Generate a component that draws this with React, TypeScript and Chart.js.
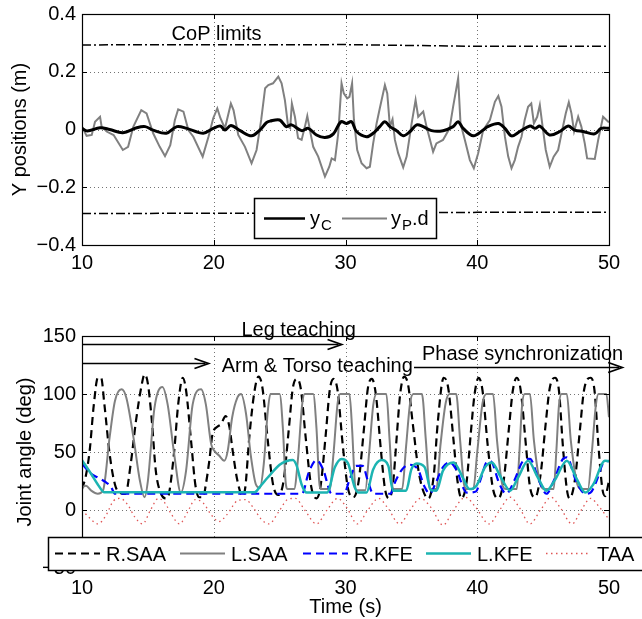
import React, { useEffect, useRef } from 'react';
import { Chart, registerables } from 'chart.js';

Chart.register(...registerables);

const FONT = '"Liberation Sans", Arial, Helvetica, sans-serif';

type Pt = [number, number];

// ---------------- Top panel: Y positions (m) ----------------
const topXTicks = [10, 20, 30, 40, 50];
const topYTicks = [-0.4, -0.2, 0, 0.2, 0.4];
const topYTickLabels = ['\u22120.4', '\u22120.2', '0', '0.2', '0.4'];

const copUpper: Pt[] = [[10, 0.293], [30, 0.294], [40, 0.288], [50, 0.288]];
const copLower: Pt[] = [[10, -0.291], [30, -0.289], [40, -0.287], [50, -0.287]];

const yC: Pt[] = [
  [10, 0.004], [10.4, -0.005], [11.37, 0.006], [12.1, 0], [13.1, -0.011], [14.15, 0.006], [14.8, 0.01],
  [15.4, -0.002], [16.4, -0.013], [17.2, 0.01], [17.95, 0.004], [19.2, -0.013], [19.96, 0.004], [20.5, 0.012],
  [20.85, -0.002], [21.3, 0.014], [22.0, -0.004], [22.87, -0.022], [23.5, -0.002], [24.0, 0.024], [24.26, 0.029],
  [25.0, 0.033], [25.5, 0.01], [25.9, 0.016], [26.67, -0.004], [27.17, 0.004], [27.8, -0.019], [28.44, -0.028],
  [29.08, -0.015], [29.65, 0.027], [30.08, 0.021], [30.46, 0.027], [30.84, -0.007], [31.6, -0.025], [32.1, -0.013],
  [32.6, 0.01], [32.99, 0.027], [33.37, 0.01], [33.88, -0.004], [34.38, -0.022], [34.9, -0.007], [35.4, 0.016],
  [35.9, 0.01], [36.53, -0.004], [37.4, -0.004], [38.17, 0.01], [38.55, 0.027], [38.93, 0.004], [39.7, -0.022],
  [40.45, -0.002], [40.8, 0.01], [41.6, 0.021], [42.1, 0.004], [42.6, -0.022], [43.23, -0.007], [44.0, 0.012],
  [44.4, 0.004], [44.75, 0.012], [45.5, -0.019], [46.27, -0.007], [46.9, 0.012], [47.4, -0.002], [48.03, -0.007],
  [48.92, -0.015], [49.4, 0.004], [50, 0.004],
];

const yPd: Pt[] = [
  [10.0, 0.01], [10.35, -0.022], [10.74, -0.019], [10.99, 0.027], [11.37, 0.044], [11.49, 0.01], [11.87, -0.007],
  [12.4, -0.019], [13.1, -0.071], [13.5, -0.06], [13.9, 0.01], [14.5, 0.067], [14.9, 0.056], [15.4, -0.013],
  [15.9, -0.06], [16.3, -0.092], [16.7, -0.054], [17.05, 0.033], [17.3, 0.07], [17.7, 0.062], [18.07, -0.002],
  [18.45, -0.025], [19.16, -0.094], [19.6, -0.025], [19.96, 0.039], [20.27, 0.073], [20.5, 0.04], [20.85, 0.004],
  [21.3, 0.09], [21.5, 0.067], [21.86, -0.019], [22.37, -0.06], [22.87, -0.117], [23.25, -0.071], [23.6, 0.033],
  [23.9, 0.143], [24.14, 0.154], [24.5, 0.16], [24.9, 0.183], [25.15, 0.16], [25.4, 0.102], [25.65, 0.01],
  [25.8, 0.005], [25.93, 0.09], [26.16, 0.044], [26.4, -0.03], [26.67, -0.036], [26.92, 0.01], [27.1, 0.047],
  [27.3, -0.002], [27.55, -0.06], [27.93, -0.094], [28.44, -0.163], [28.77, -0.129], [28.95, -0.1], [29.2, -0.106],
  [29.45, -0.013], [29.7, 0.16], [29.87, 0.125], [30.13, 0.108], [30.3, 0.113], [30.5, 0.16], [30.64, 0.033],
  [30.89, -0.071], [31.22, -0.117], [31.6, -0.134], [31.85, -0.129], [32.1, -0.048], [32.36, 0.021], [32.6, 0.073],
  [32.99, 0.154], [33.17, 0.125], [33.37, 0.01], [33.57, 0.035], [33.75, -0.036], [34.0, -0.082], [34.38, -0.131],
  [34.64, -0.094], [35.02, 0.021], [35.32, 0.102], [35.52, 0.044], [35.9, 0.062], [36.15, 0.01], [36.65, -0.077],
  [36.9, -0.048], [37.4, -0.036], [37.9, 0.004], [38.17, 0.079], [38.55, 0.177], [38.73, 0.021], [39.06, -0.036],
  [39.44, -0.106], [39.74, -0.134], [40.07, -0.082], [40.45, -0.002], [40.96, 0.033], [41.34, 0.096], [41.6, 0.116],
  [41.84, 0.079], [42.1, -0.025], [42.35, -0.094], [42.6, -0.134], [42.85, -0.106], [43.1, -0.06], [43.36, -0.025],
  [43.6, 0.033], [43.86, 0.079], [44.1, 0.09], [44.3, 0.021], [44.55, 0.044], [44.75, 0.085], [44.96, 0.01],
  [45.2, -0.071], [45.5, -0.129], [45.8, -0.094], [46.14, -0.071], [46.4, -0.013], [46.72, 0.056], [46.95, 0.094],
  [47.15, 0.056], [47.35, -0.007], [47.66, 0.044], [47.9, 0.01], [48.16, -0.048], [48.34, -0.1], [48.92, -0.102],
  [49.18, -0.036], [49.55, 0.044], [49.94, 0.027], [50, 0.025],
];

// ---------------- Bottom panel: Joint angle (deg) ----------------
const botXTicks = [10, 20, 30, 40, 50];
const botYTicks = [-50, 0, 50, 100, 150];
const botYTickLabels = ['\u221250', '0', '50', '100', '150'];
const jointNames = ['R.SAA', 'L.SAA', 'R.KFE', 'L.KFE', 'TAA'];

const rSAA: Pt[] = [
  [10, 18], [10.3, 30], [10.58, 51], [10.9, 91], [11.2, 114], [11.45, 114], [11.7, 91], [12.1, 48], [12.5, 22],
  [12.85, 15], [13.3, 14], [13.7, 40], [14.1, 77], [14.5, 106], [14.75, 117], [15.0, 109], [15.3, 77], [15.6, 34],
  [16.0, 14], [16.4, 10], [16.6, 14], [17.0, 51], [17.3, 91], [17.65, 114], [17.9, 103], [18.3, 57], [18.6, 22],
  [18.9, 11], [19.2, 11], [19.4, 22], [19.67, 43], [19.9, 65], [20.3, 72], [20.55, 74], [20.9, 81], [21.2, 71],
  [21.4, 54], [21.8, 25], [22.2, 12], [22.4, 20], [22.7, 63], [23.1, 103], [23.4, 115], [23.7, 105], [24.1, 60],
  [24.5, 22], [24.9, 13], [25.3, 25], [25.7, 70], [26.0, 105], [26.3, 113], [26.6, 105], [27.0, 60], [27.4, 20],
  [27.8, 10], [28.1, 20], [28.5, 65], [28.8, 103], [29.1, 113], [29.4, 103], [29.8, 55], [30.2, 18], [30.6, 11],
  [31.0, 25], [31.4, 70], [31.7, 105], [32.0, 113], [32.3, 100], [32.7, 50], [33.0, 18], [33.3, 10], [33.6, 22],
  [33.9, 65], [34.15, 100], [34.45, 115], [34.75, 108], [35.1, 75], [35.6, 30], [36.3, 10], [36.7, 30], [37.0, 75],
  [37.45, 114], [37.8, 105], [38.2, 60], [38.5, 25], [38.8, 10], [39.2, 25], [39.5, 65], [39.8, 100], [40.1, 114],
  [40.4, 103], [40.8, 55], [41.2, 18], [41.6, 10], [42.0, 25], [42.4, 70], [42.7, 103], [43.0, 114], [43.3, 103],
  [43.7, 55], [44.0, 20], [44.4, 11], [44.8, 30], [45.2, 75], [45.5, 105], [45.9, 114], [46.2, 103], [46.5, 55],
  [46.8, 18], [47.0, 10], [47.4, 25], [47.8, 70], [48.1, 103], [48.6, 114], [48.9, 103], [49.2, 55], [49.5, 18],
  [49.7, 12], [50, 25],
];

const lSAA: Pt[] = [
  [10, 19.5], [10.3, 21], [10.7, 16.7], [11.2, 14], [11.6, 17], [12.1, 63], [12.5, 94], [13.0, 104], [13.36, 97],
  [13.9, 63], [14.4, 25], [14.75, 11], [15.0, 25], [15.5, 88], [16.1, 106], [16.5, 91], [17.0, 48], [17.5, 15],
  [17.9, 34], [18.4, 91], [19.04, 104], [19.4, 91], [19.8, 57], [20.05, 51], [20.4, 47], [20.8, 42.5], [21.06, 51],
  [21.4, 80], [21.8, 97], [22.07, 100], [22.45, 83], [22.8, 48], [23.2, 22], [23.5, 19], [23.8, 40], [24.1, 85],
  [24.3, 100], [25.0, 100], [25.25, 70], [25.45, 25], [25.6, 18], [26.1, 18], [26.4, 45], [26.7, 90], [26.9, 100],
  [27.55, 100], [27.8, 70], [28.0, 25], [28.1, 18], [28.8, 18], [29.1, 50], [29.4, 92], [29.6, 100], [30.3, 100],
  [30.5, 70], [30.7, 25], [30.8, 17], [31.5, 17], [31.8, 50], [32.1, 90], [32.35, 100], [33.1, 100], [33.35, 60],
  [33.6, 18], [34.3, 18], [34.6, 55], [34.9, 92], [35.15, 100], [35.8, 100], [36.1, 60], [36.4, 18], [36.9, 18],
  [37.2, 55], [37.6, 92], [37.9, 100], [38.4, 100], [38.7, 60], [39.0, 22], [39.2, 18], [39.7, 18], [40.0, 50],
  [40.4, 92], [40.7, 100], [41.2, 100], [41.5, 60], [41.9, 22], [42.2, 18], [43.0, 18], [43.2, 50], [43.4, 90],
  [43.6, 100], [44.0, 100], [44.3, 60], [44.8, 22], [45.1, 18], [45.8, 18], [46.0, 50], [46.2, 90], [46.4, 100],
  [46.8, 100], [47.1, 60], [47.6, 22], [47.9, 18], [48.4, 18], [48.7, 50], [49.0, 90], [49.2, 100], [49.8, 100],
  [50, 80],
];

const rKFE: Pt[] = [
  [10, 40], [10.6, 32], [11.2, 28], [11.8, 24], [12.2, 20], [12.5, 14], [26.7, 14], [27.2, 32], [27.8, 43],
  [28.3, 35], [28.95, 14], [29.9, 14], [30.3, 26], [30.8, 38], [31.3, 38], [31.7, 25], [32.1, 14], [33.4, 14],
  [33.8, 25], [34.3, 35], [34.8, 39], [35.5, 35], [36.0, 20], [36.4, 14], [36.8, 22], [37.4, 37], [37.9, 41],
  [38.4, 35], [39.2, 15], [39.9, 16], [40.3, 28], [40.7, 41], [41.0, 42], [41.7, 22], [42.2, 14], [42.8, 25],
  [43.5, 42.5], [44.0, 44], [44.7, 25], [45.25, 14], [45.8, 25], [46.5, 44], [46.8, 45.4], [47.5, 25], [48.2, 14],
  [48.6, 15], [49.05, 25], [49.55, 40], [50, 42.5],
];

const lKFE: Pt[] = [
  [10, 43], [10.7, 31], [11.2, 22], [11.7, 15.2], [23.1, 15.2], [23.5, 20], [24.1, 28], [25.0, 39], [25.5, 42],
  [26.0, 43], [26.3, 38], [26.67, 22], [27.05, 15], [28.6, 15], [29.2, 37], [29.7, 44], [30.2, 40], [30.7, 19.5],
  [31.0, 15], [31.6, 15], [32.1, 35], [32.74, 43], [33.25, 38], [33.6, 16.7], [34.6, 16.7], [35.0, 35], [35.4, 40],
  [36.0, 37], [36.5, 17], [36.9, 16.7], [37.4, 34], [38.2, 41], [38.9, 28], [39.4, 18], [39.94, 21], [40.6, 37],
  [41.1, 41], [41.8, 28], [42.5, 16.7], [43.1, 28], [43.86, 42.5], [44.6, 28], [45.25, 16.7], [45.9, 26],
  [46.8, 42.5], [47.5, 28], [48.2, 15], [48.8, 22], [49.7, 42.5], [50, 42],
];

const tAA: Pt[] = [
  [10, 0], [10.5, -6], [11.2, -12], [11.8, -5], [12.4, 8], [12.9, 10], [13.5, 4], [14.0, -6], [14.6, -12],
  [15.2, 0], [15.8, 10], [16.3, 6], [16.8, -4], [17.4, -12], [18.0, -2], [18.6, 9], [19.2, 6], [19.8, -4],
  [20.4, -10], [21.0, -4], [21.8, 8], [22.4, 9], [23.0, 2], [23.6, -8], [24.2, -12], [24.9, -2], [25.6, 9],
  [26.2, 10], [26.9, 0], [27.8, -12], [28.6, 0], [29.4, 10], [30.1, 2], [30.9, -12], [31.7, 0], [32.5, 10],
  [33.2, 2], [34.1, -12], [34.9, 0], [35.7, 10], [36.5, 2], [37.4, -13], [38.2, 0], [39.1, 11], [39.9, 2],
  [40.9, -12], [41.7, 0], [42.5, 11], [43.2, 2], [44.0, -12], [44.8, 0], [45.6, 11], [46.3, 2], [47.2, -12],
  [47.9, 0], [48.6, 10], [49.3, 2], [50, -8],
];

// annotation arrows: [start time, end time, angle level]
const legArrow = [10, 29.7, 142.8];
const armArrow = [10, 19.6, 126.5];
const phaseArrow = [35.2, 51.0, 123];

// ---------------- helpers ----------------
const toXY = (s: Pt[]) => s.map(([x, y]) => ({ x, y }));

const JOINT_STYLES = [
  { color: '#000000', dash: [8, 5], width: 2.2 },
  { color: '#808080', dash: [] as number[], width: 2 },
  { color: '#0000ff', dash: [8, 5], width: 2.2 },
  { color: '#1cb4b2', dash: [] as number[], width: 2.5 },
  { color: '#e05555', dash: [1.5, 3.5], width: 1.3 },
];

function axesPlugin(xTicks: number[], yTicks: number[]) {
  return {
    id: 'matlabAxes',
    beforeDatasetsDraw(chart: any) {
      const { ctx, chartArea: a, scales } = chart;
      ctx.save();
      ctx.strokeStyle = 'rgba(0,0,0,0.55)';
      ctx.lineWidth = 1;
      ctx.setLineDash([1, 3]);
      ctx.beginPath();
      xTicks.forEach((t) => {
        const p = Math.round(scales.x.getPixelForValue(t)) + 0.5;
        if (p > a.left + 2 && p < a.right - 2) {
          ctx.moveTo(p, a.top);
          ctx.lineTo(p, a.bottom);
        }
      });
      yTicks.forEach((t) => {
        const p = Math.round(scales.y.getPixelForValue(t)) + 0.5;
        if (p > a.top + 2 && p < a.bottom - 2) {
          ctx.moveTo(a.left, p);
          ctx.lineTo(a.right, p);
        }
      });
      ctx.stroke();
      ctx.restore();
    },
    afterDatasetsDraw(chart: any) {
      const { ctx, chartArea: a, scales } = chart;
      ctx.save();
      ctx.strokeStyle = '#000';
      ctx.lineWidth = 1;
      ctx.setLineDash([]);
      ctx.beginPath();
      const tl = 5;
      xTicks.forEach((t) => {
        const p = Math.round(scales.x.getPixelForValue(t)) + 0.5;
        ctx.moveTo(p, a.bottom);
        ctx.lineTo(p, a.bottom - tl);
        ctx.moveTo(p, a.top);
        ctx.lineTo(p, a.top + tl);
      });
      yTicks.forEach((t) => {
        const p = Math.round(scales.y.getPixelForValue(t)) + 0.5;
        ctx.moveTo(a.left, p);
        ctx.lineTo(a.left + tl, p);
        ctx.moveTo(a.right, p);
        ctx.lineTo(a.right - tl, p);
      });
      ctx.stroke();
      ctx.lineWidth = 1.2;
      ctx.strokeRect(Math.round(a.left) + 0.5, Math.round(a.top) + 0.5, Math.round(a.right - a.left), Math.round(a.bottom - a.top));
      ctx.restore();
    },
  };
}

function drawArrow(ctx: CanvasRenderingContext2D, x1: number, x2: number, y: number) {
  ctx.save();
  ctx.strokeStyle = '#000';
  ctx.fillStyle = '#000';
  ctx.lineWidth = 1.6;
  ctx.beginPath();
  ctx.moveTo(x1, y);
  ctx.lineTo(x2 - 3, y);
  ctx.stroke();
  ctx.lineWidth = 1.8;
  ctx.beginPath();
  ctx.moveTo(x2 - 14, y - 5);
  ctx.lineTo(x2, y);
  ctx.lineTo(x2 - 14, y + 5);
  ctx.stroke();
  ctx.restore();
}

function scaleX(height: number, pad: number, ticks: number[], title?: string) {
  return {
    type: 'linear' as const,
    min: ticks[0],
    max: ticks[ticks.length - 1],
    afterBuildTicks: (s: any) => {
      s.ticks = ticks.map((v) => ({ value: v }));
    },
    afterFit: (s: any) => {
      s.height = height;
    },
    ticks: { font: { family: FONT, size: 20 }, color: '#000', padding: pad, maxRotation: 0, autoSkip: false },
    grid: { display: false, drawTicks: false },
    border: { display: false },
    title: title
      ? { display: true, text: title, color: '#000', font: { family: FONT, size: 20 }, padding: { top: 0, bottom: 0 } }
      : { display: false },
  };
}

function scaleY(width: number, ticks: number[], labels: string[], title: string, titlePad: number) {
  return {
    type: 'linear' as const,
    min: ticks[0],
    max: ticks[ticks.length - 1],
    afterBuildTicks: (s: any) => {
      s.ticks = ticks.map((v) => ({ value: v }));
    },
    afterFit: (s: any) => {
      s.width = width;
      s.paddingTop = 0;
      s.paddingBottom = 0;
    },
    ticks: {
      font: { family: FONT, size: 20 },
      color: '#000',
      padding: 6,
      autoSkip: false,
      callback: (v: number) => {
        const i = ticks.indexOf(v);
        return i >= 0 ? labels[i] : '';
      },
    },
    grid: { display: false, drawTicks: false },
    border: { display: false },
    title: { display: true, text: title, color: '#000', font: { family: FONT, size: 20 }, padding: { top: titlePad, bottom: 0 } },
  };
}

const topAnnotations = {
  id: 'topAnnotations',
  afterDraw(chart: any) {
    const { ctx, scales } = chart;
    ctx.save();
    ctx.fillStyle = '#000';
    ctx.textBaseline = 'alphabetic';
    ctx.font = `20px ${FONT}`;
    ctx.fillText('CoP limits', scales.x.getPixelForValue(16.8), scales.y.getPixelForValue(0.31));

    // legend box
    const bx = 254, by = 198, bw = 182, bh = 40;
    ctx.fillStyle = '#fff';
    ctx.fillRect(bx, by, bw, bh);
    ctx.strokeStyle = '#000';
    ctx.lineWidth = 1.5;
    ctx.strokeRect(bx + 0.5, by + 0.5, bw, bh);
    const ly = 218.5;
    ctx.lineWidth = 2.5;
    ctx.beginPath();
    ctx.moveTo(264, ly);
    ctx.lineTo(305, ly);
    ctx.stroke();
    ctx.strokeStyle = '#808080';
    ctx.lineWidth = 2;
    ctx.beginPath();
    ctx.moveTo(342, ly);
    ctx.lineTo(387, ly);
    ctx.stroke();
    ctx.fillStyle = '#000';
    ctx.font = `20px ${FONT}`;
    ctx.fillText('y', 310, 225);
    ctx.fillText('y', 391, 225);
    ctx.font = `15px ${FONT}`;
    ctx.fillText('C', 321, 230);
    ctx.fillText('P', 402, 230);
    ctx.font = `20px ${FONT}`;
    ctx.fillText('.d', 412, 225);
    ctx.restore();
  },
};

const bottomAnnotations = {
  id: 'bottomAnnotations',
  afterDraw(chart: any) {
    const { ctx, scales } = chart;
    const xs = scales.x, ys = scales.y;
    const arrows = [legArrow, armArrow, phaseArrow];
    arrows.forEach(([t1, t2, v]) => {
      drawArrow(ctx, xs.getPixelForValue(t1), xs.getPixelForValue(t2), Math.round(ys.getPixelForValue(v)) + 0.5);
    });
    ctx.save();
    ctx.fillStyle = '#000';
    ctx.textBaseline = 'alphabetic';
    ctx.font = `20px ${FONT}`;
    ctx.fillText('Leg teaching', xs.getPixelForValue(22.1), ys.getPixelForValue(150));
    ctx.fillText('Arm & Torso teaching', xs.getPixelForValue(20.6), ys.getPixelForValue(119));
    ctx.fillText('Phase synchronization', xs.getPixelForValue(35.8), ys.getPixelForValue(129.7));

    // legend
    const bx = 48, by = 237, bh = 33;
    ctx.fillStyle = '#fff';
    ctx.fillRect(bx, by, 642 - bx + 4, bh);
    ctx.strokeStyle = '#000';
    ctx.lineWidth = 1.5;
    ctx.strokeRect(bx + 0.5, by + 0.5, 642 - bx + 10, bh);
    const starts = [55, 180, 303, 426, 546];
    const ly = by + bh / 2;
    jointNames.forEach((name, i) => {
      const st = JOINT_STYLES[i];
      ctx.strokeStyle = st.color;
      ctx.lineWidth = st.width;
      ctx.setLineDash(st.dash);
      ctx.beginPath();
      ctx.moveTo(starts[i], ly);
      ctx.lineTo(starts[i] + 45, ly);
      ctx.stroke();
      ctx.setLineDash([]);
      ctx.fillStyle = '#000';
      ctx.fillText(name, starts[i] + 51, by + 24);
    });
    ctx.restore();
  },
};

export default function App() {
  const topRef = useRef<HTMLCanvasElement>(null);
  const botRef = useRef<HTMLCanvasElement>(null);

  useEffect(() => {
    const top = new Chart(topRef.current as HTMLCanvasElement, {
      type: 'line',
      data: {
        datasets: [
          { label: 'y_C', data: toXY(yC), borderColor: '#000', borderWidth: 3, pointRadius: 0, tension: 0.35 },
          { label: 'y_P.d', data: toXY(yPd), borderColor: '#808080', borderWidth: 2, pointRadius: 0, tension: 0 },
          { label: 'CoP upper', data: toXY(copUpper), borderColor: '#000', borderWidth: 1.5, borderDash: [9, 3, 2, 3], pointRadius: 0 },
          { label: 'CoP lower', data: toXY(copLower), borderColor: '#000', borderWidth: 1.5, borderDash: [9, 3, 2, 3], pointRadius: 0 },
        ],
      },
      options: {
        responsive: false,
        maintainAspectRatio: false,
        animation: false,
        events: [],
        layout: { padding: { top: 14, right: 33, left: 0, bottom: 0 } },
        plugins: { legend: { display: false }, tooltip: { enabled: false } },
        scales: {
          x: scaleX(55, 6, topXTicks),
          y: scaleY(82, topYTicks, topYTickLabels, 'Y positions (m)', 8),
        },
      } as any,
      plugins: [axesPlugin(topXTicks, topYTicks), topAnnotations],
    });

    const series = [rSAA, lSAA, rKFE, lKFE, tAA];
    const bottom = new Chart(botRef.current as HTMLCanvasElement, {
      type: 'line',
      data: {
        datasets: series.map((s, i) => ({
          label: jointNames[i],
          data: toXY(s),
          borderColor: JOINT_STYLES[i].color,
          borderWidth: JOINT_STYLES[i].width,
          borderDash: JOINT_STYLES[i].dash,
          pointRadius: 0,
          cubicInterpolationMode: 'monotone',
          order: 5 - i,
        })),
      },
      options: {
        responsive: false,
        maintainAspectRatio: false,
        animation: false,
        events: [],
        layout: { padding: { top: 36, right: 33, left: 0, bottom: 0 } },
        plugins: { legend: { display: false }, tooltip: { enabled: false } },
        scales: {
          x: scaleX(51, 8, botXTicks, 'Time (s)'),
          y: scaleY(82, botYTicks, botYTickLabels, 'Joint angle (deg)', 13),
        },
      } as any,
      plugins: [axesPlugin(botXTicks, botYTicks), bottomAnnotations],
    });

    return () => {
      top.destroy();
      bottom.destroy();
    };
  }, []);

  return (
    <div style={{ position: 'absolute', left: 0, top: 0, width: 642, height: 619, background: '#fff', overflow: 'hidden' }}>
      <canvas ref={topRef} width={642} height={300} style={{ position: 'absolute', left: 0, top: 0, width: 642, height: 300 }} />
      <canvas ref={botRef} width={642} height={319} style={{ position: 'absolute', left: 0, top: 300, width: 642, height: 319 }} />
    </div>
  );
}
